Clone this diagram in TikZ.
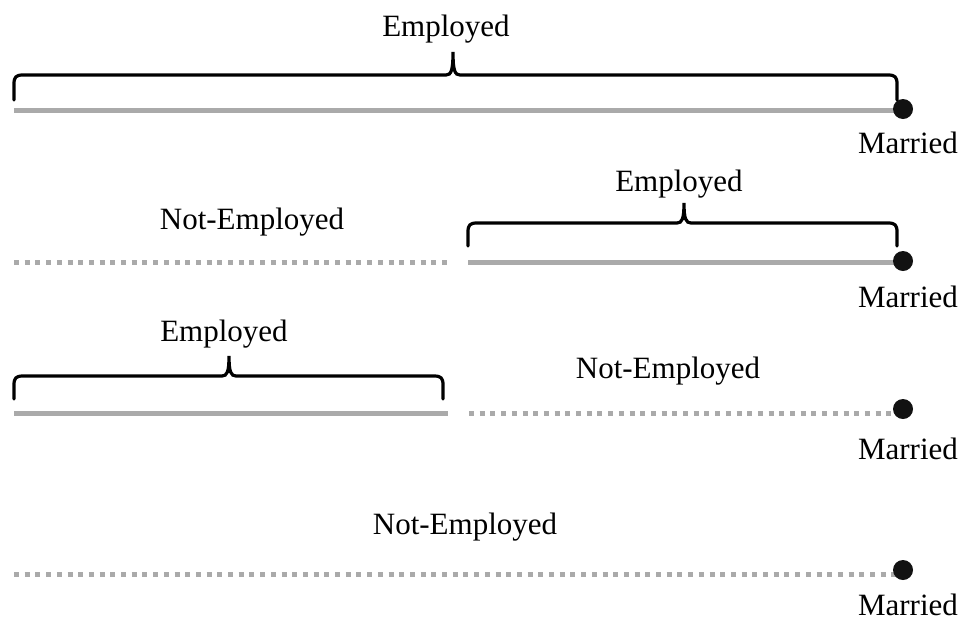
\documentclass[tikz,border=0pt]{standalone}
\usepackage{fontspec}
\setmainfont{Liberation Serif}
\definecolor{linegray}{HTML}{AAAAAA}
\tikzset{
  solidline/.style={draw=linegray, line width=5pt},
  dotline/.style={draw=linegray, line width=5pt, dash pattern=on 5pt off 5.7pt},
  bracestyle/.style={draw=black, line width=3.2pt, line cap=round},
  dotnode/.style={circle, fill=black!93, inner sep=0pt, minimum size=20pt},
  lbl/.style={anchor=base, inner sep=0pt, font=\fontsize{31}{36}\selectfont},
}
% brace: #1 left x, #2 right x, #3 mid x, #4 end y, #5 bar y, #6 tip y
\newcommand\dobrace[6]{%
  \draw[bracestyle] (#1,#4) -- (#1,#5+9) .. controls (#1,#5+2) and (#1+2,#5) .. (#1+9,#5)
    -- (#3-7,#5) .. controls (#3-2,#5) and (#3,#5-4) .. (#3,#6)
    .. controls (#3,#5-4) and (#3+2,#5) .. (#3+7,#5)
    -- (#2-9,#5) .. controls (#2-2,#5) and (#2,#5+2) .. (#2,#5+9) -- (#2,#4);}
\begin{document}
\begin{tikzpicture}[x=1pt,y=-1pt]
\useasboundingbox (0,0) rectangle (966,622);
% row 1
\coordinate (a1) at (14,110);
\coordinate (z1) at (900,110);
\draw[solidline] (a1) -- (z1);
\node[dotnode] (d1) at (903,109) {};
\dobrace{14}{897}{453}{100}{75}{52}
\node[lbl] (e1) at (446,36) {Employed};
\node[lbl] (m1) at (908,153) {Married};
% row 2
\coordinate (a2) at (14,262);
\coordinate (b2) at (449,262);
\coordinate (c2) at (468,262);
\coordinate (z2) at (900,262);
\draw[dotline] (a2) -- (b2);
\draw[solidline] (c2) -- (z2);
\node[dotnode] (d2) at (903,261) {};
\dobrace{468}{897}{684}{246}{223}{203}
\node[lbl] (e2) at (679,191) {Employed};
\node[lbl] (n2) at (252,229) {Not-Employed};
\node[lbl] (m2) at (908,307) {Married};
% row 3
\coordinate (a3) at (14,413);
\coordinate (b3) at (448,413);
\coordinate (c3) at (469,413);
\coordinate (z3) at (900,413);
\draw[solidline] (a3) -- (b3);
\draw[dotline] (c3) -- (z3);
\node[dotnode] (d3) at (903,409) {};
\dobrace{14}{443}{229}{399}{376}{356}
\node[lbl] (e3) at (224,341) {Employed};
\node[lbl] (n3) at (668,378) {Not-Employed};
\node[lbl] (m3) at (908,459) {Married};
% row 4
\coordinate (a4) at (14,574);
\coordinate (z4) at (900,574);
\draw[dotline] (a4) -- (z4);
\node[dotnode] (d4) at (903,570) {};
\node[lbl] (n4) at (465,534) {Not-Employed};
\node[lbl] (m4) at (908,615) {Married};
\end{tikzpicture}
\end{document}
